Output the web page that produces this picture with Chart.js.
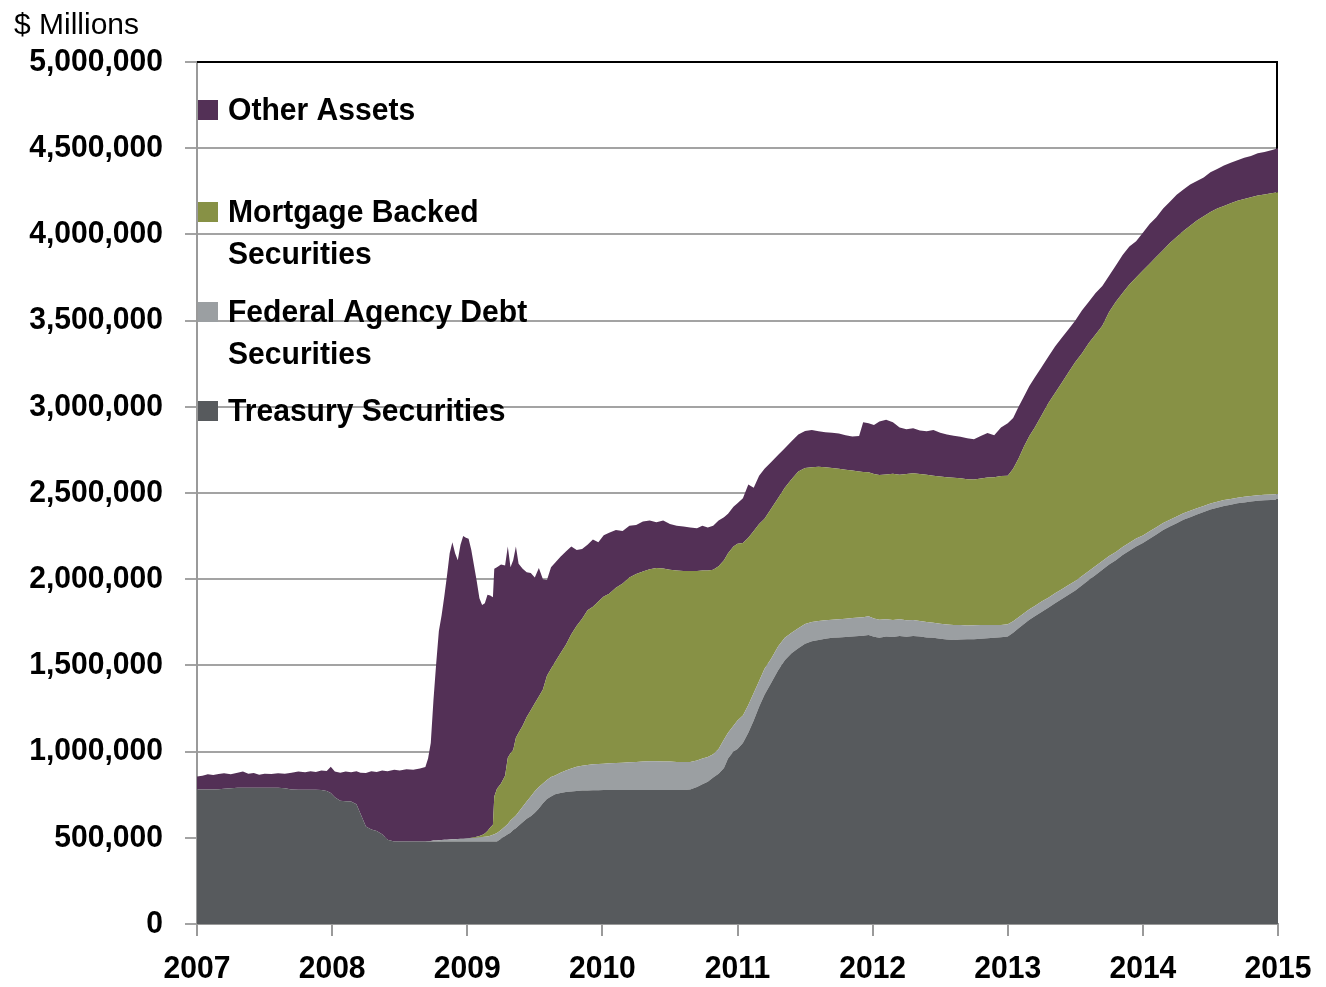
<!DOCTYPE html>
<html>
<head>
<meta charset="utf-8">
<script src="https://cdn.jsdelivr.net/npm/chart.js@4.4.1/dist/chart.umd.min.js"></script>
<style>
  html, body { margin: 0; padding: 0; background: #ffffff; }
  canvas { display: block; }
</style>
</head>
<body>
<canvas id="chart" width="1326" height="987"></canvas>
<script>
// Federal Reserve balance sheet assets, weekly-ish readings in $ billions.
const dates = [
  2007.00, 2007.04, 2007.08, 2007.12, 2007.16, 2007.20, 2007.25, 2007.30, 2007.34, 2007.38, 2007.42, 2007.46,
  2007.50, 2007.55, 2007.60, 2007.65, 2007.70, 2007.75, 2007.80, 2007.84, 2007.88, 2007.92, 2007.96, 2007.99,
  2008.02, 2008.06, 2008.10, 2008.14, 2008.18, 2008.21, 2008.25, 2008.29, 2008.33, 2008.37, 2008.41, 2008.46,
  2008.50, 2008.55, 2008.60, 2008.65, 2008.69, 2008.71, 2008.73, 2008.75, 2008.77, 2008.79, 2008.81, 2008.83,
  2008.85, 2008.87, 2008.89, 2008.91, 2008.93, 2008.95, 2008.97, 2008.99,
  2009.01, 2009.03, 2009.05, 2009.07, 2009.09, 2009.11, 2009.13, 2009.15, 2009.17, 2009.19, 2009.20, 2009.22,
  2009.25, 2009.28, 2009.30, 2009.32, 2009.34, 2009.36, 2009.38, 2009.41, 2009.44, 2009.47, 2009.50, 2009.53,
  2009.56, 2009.59, 2009.62, 2009.65, 2009.69, 2009.73, 2009.77, 2009.81, 2009.85, 2009.89, 2009.93, 2009.97,
  2010.01, 2010.05, 2010.10, 2010.15, 2010.20, 2010.25, 2010.30, 2010.35, 2010.40, 2010.45, 2010.50, 2010.55,
  2010.60, 2010.65, 2010.70, 2010.74, 2010.78, 2010.82, 2010.86, 2010.90, 2010.93, 2010.97,
  2011.00, 2011.04, 2011.08, 2011.12, 2011.16, 2011.20, 2011.25, 2011.30, 2011.35, 2011.40, 2011.45, 2011.50,
  2011.55, 2011.60, 2011.65, 2011.70, 2011.75, 2011.80, 2011.85, 2011.90, 2011.93, 2011.97,
  2012.01, 2012.05, 2012.10, 2012.15, 2012.20, 2012.25, 2012.30, 2012.35, 2012.40, 2012.45, 2012.50, 2012.55,
  2012.60, 2012.65, 2012.70, 2012.75, 2012.80, 2012.85, 2012.90, 2012.95,
  2013.00, 2013.04, 2013.08, 2013.12, 2013.16, 2013.20, 2013.25, 2013.30, 2013.35, 2013.40, 2013.45, 2013.50,
  2013.55, 2013.60, 2013.65, 2013.70, 2013.75, 2013.80, 2013.85, 2013.90, 2013.95,
  2014.00, 2014.05, 2014.10, 2014.15, 2014.20, 2014.25, 2014.30, 2014.35, 2014.40, 2014.45, 2014.50, 2014.55,
  2014.60, 2014.65, 2014.70, 2014.75, 2014.80, 2014.85, 2014.90, 2014.95, 2015.00
];

const treasury = [
  780, 780, 780, 780, 781, 784, 788, 790, 790, 790, 790, 790,
  790, 790, 790, 788, 780, 778, 778, 778, 778, 777, 772, 760,
  735, 715, 712, 710, 695, 640, 565, 548, 540, 520, 488, 478,
  478, 478, 478, 478, 478, 478, 478, 478, 478, 478, 478, 478,
  478, 478, 478, 478, 478, 478, 478, 478,
  478, 478, 478, 478, 478, 478, 478, 478, 478, 478, 478, 478,
  495, 510, 520, 530, 545, 555, 570, 590, 610, 625, 645, 670,
  700, 725, 740, 752, 760, 765, 769, 772, 774, 775, 776, 776,
  777, 777, 777, 777, 777, 777, 777, 777, 777, 777, 777, 777,
  777, 780, 795, 810, 825, 850, 872, 905, 960, 1000,
  1015, 1050, 1110, 1180, 1260, 1330, 1400, 1470, 1530, 1570, 1600, 1625,
  1640, 1648, 1655, 1660, 1662, 1665, 1668, 1670, 1672, 1676,
  1666, 1660, 1668, 1665, 1670, 1666, 1670, 1668, 1662, 1660, 1655, 1650,
  1648, 1650, 1652, 1652, 1655, 1658, 1660, 1663,
  1668, 1690, 1715, 1740, 1765, 1785, 1810, 1835, 1860, 1885, 1910, 1935,
  1965, 1995, 2025, 2055, 2085, 2110, 2140, 2165, 2190,
  2210, 2235, 2260, 2285, 2305, 2325, 2345, 2360, 2375, 2390, 2405, 2415,
  2425, 2432, 2440, 2445, 2450, 2455, 2458, 2460, 2462
];

const agencyDebt = [
  0, 0, 0, 0, 0, 0, 0, 0, 0, 0, 0, 0,
  0, 0, 0, 0, 0, 0, 0, 0, 0, 0, 0, 0,
  0, 0, 0, 0, 0, 0, 0, 0, 0, 0, 0, 0,
  0, 0, 0, 0, 0, 2, 4, 6, 7, 8, 9, 10,
  11, 12, 13, 14, 15, 16, 17, 18,
  19, 20, 21, 22, 24, 26, 28, 30, 34, 40, 42, 50,
  50, 55, 60, 70, 70, 75, 80, 90, 100, 115, 125, 125,
  115, 110, 112, 110, 118, 125, 133, 140, 144, 147, 150, 152,
  153, 155, 157, 159, 161, 163, 165, 167, 167, 166, 165, 163,
  162, 160, 153, 150, 143, 135, 143, 165, 150, 150,
  165, 160, 160, 160, 150, 150, 140, 140, 130, 120, 115, 115,
  112, 110, 107, 105, 106, 105, 107, 108, 108, 109,
  106, 105, 100, 99, 98, 96, 94, 90, 90, 88, 87, 87,
  87, 84, 80, 81, 79, 76, 74, 72,
  70, 66, 65, 62, 61, 60, 60, 58, 58, 57, 56, 55,
  53, 52, 51, 50, 49, 48, 47, 46, 46,
  44, 43, 42, 41, 40, 39, 38, 37, 36, 35, 34, 34,
  34, 33, 33, 33, 32, 32, 32, 32, 32
];

const mortgageBacked = [
  0, 0, 0, 0, 0, 0, 0, 0, 0, 0, 0, 0,
  0, 0, 0, 0, 0, 0, 0, 0, 0, 0, 0, 0,
  0, 0, 0, 0, 0, 0, 0, 0, 0, 0, 0, 0,
  0, 0, 0, 0, 0, 0, 0, 0, 0, 0, 0, 0,
  0, 0, 0, 0, 0, 0, 0, 0,
  1, 2, 4, 6, 8, 12, 19, 32, 48, 57, 220, 257,
  270, 295, 385, 390, 395, 450, 460, 470, 490, 500, 510, 525,
  545, 605, 628, 658, 692, 730, 778, 818, 852, 898, 914, 942,
  970, 983, 1016, 1039, 1072, 1090, 1103, 1114, 1121, 1119, 1113, 1110,
  1109, 1108, 1100, 1090, 1082, 1070, 1060, 1040, 1040, 1040,
  1025, 1000, 970, 940, 910, 870, 870, 860, 870, 890, 910, 905,
  898, 894, 888, 880, 872, 865, 855, 847, 842, 835,
  838, 840, 840, 848, 838, 848, 851, 852, 854, 852, 854, 855,
  853, 851, 848, 845, 850, 856, 858, 863,
  862, 884, 920, 968, 1004, 1035, 1080, 1127, 1162, 1198, 1234, 1270,
  1292, 1323, 1344, 1365, 1416, 1452, 1473, 1499, 1514,
  1536, 1552, 1568, 1584, 1605, 1621, 1637, 1653, 1669, 1680, 1691, 1701,
  1706, 1715, 1722, 1727, 1733, 1738, 1742, 1746, 1751
];

const otherAssets = [
  75, 80, 88, 84, 89, 90, 80, 88, 94, 82, 86, 76,
  82, 80, 84, 84, 98, 106, 102, 108, 104, 113, 116, 152,
  149, 163, 172, 170, 191, 238, 311, 338, 342, 370, 398, 416,
  412, 420, 416, 424, 432, 480, 568, 816, 1025, 1214, 1303, 1412,
  1531, 1660, 1724, 1658, 1617, 1706, 1755, 1744,
  1737, 1670, 1577, 1484, 1380, 1334, 1335, 1370, 1345, 1320, 1320, 1285,
  1270, 1220, 1225, 1080, 1100, 1110, 980, 910, 840, 796, 730, 745,
  640, 555, 590, 575, 560, 540, 510, 440, 405, 380, 390, 345,
  355, 355, 335, 305, 300, 285, 290, 282, 265, 278, 265, 260,
  257, 252, 247, 260, 250, 255, 265, 250, 230, 230,
  235, 260, 310, 250, 280, 290, 270, 250, 230, 220, 215, 215,
  215, 206, 202, 205, 205, 200, 198, 205, 288, 285,
  285, 310, 317, 298, 274, 260, 260, 252, 252, 266, 254, 248,
  244, 241, 238, 234, 246, 258, 243, 282,
  305, 295, 300, 290, 290, 290, 280, 270, 270, 260, 250, 240,
  250, 240, 240, 230, 210, 210, 220, 220, 210,
  220, 230, 230, 240, 240, 245, 240, 240, 230, 225, 230, 230,
  235, 235, 235, 240, 240, 245, 246, 250, 255
];

const MILLIONS_PER_BILLION = 1000;
const seriesLabels = ['Treasury Securities', 'Federal Agency Debt Securities', 'Mortgage Backed Securities', 'Other Assets'];
const seriesColors = ['#575a5d', '#9b9fa2', '#879145', '#533056'];
const seriesValues = [treasury, agencyDebt, mortgageBacked, otherAssets];
// Legend entries, top to bottom, with their wrapped text
const legendEntries = [
  { series: 3, lines: ['Other Assets'] },
  { series: 2, lines: ['Mortgage Backed', 'Securities'] },
  { series: 1, lines: ['Federal Agency Debt', 'Securities'] },
  { series: 0, lines: ['Treasury Securities'] }
];
const unitTitle = '$ Millions';

const BOLD_FAMILY = '"Liberation Sans", Arial, sans-serif';
const REGULAR_FAMILY = '"Liberation Sans", Arial, sans-serif';
const CONDENSE = 0.94; // horizontal squeeze applied to the bold label text

const datasets = seriesValues.map((vals, s) => ({
  label: seriesLabels[s],
  data: dates.map((d, i) => ({ x: d, y: vals[i] * MILLIONS_PER_BILLION })),
  backgroundColor: seriesColors[s],
  borderColor: seriesColors[s],
  borderWidth: 0,
  pointRadius: 0,
  tension: 0,
  fill: s === 0 ? 'origin' : '-1'
}));

// Bold text is drawn slightly condensed, scaled about its anchor point;
// measurements are squeezed the same way so the layout stays consistent.
const condensePlugin = {
  id: 'condense',
  beforeInit(chart) {
    const ctx = chart.ctx;
    const isBold = () => /bold|700/.test(ctx.font);
    const nativeFillText = ctx.fillText.bind(ctx);
    const nativeMeasure = ctx.measureText.bind(ctx);
    ctx.fillText = function (text, x, y, maxWidth) {
      if (isBold()) {
        ctx.save();
        ctx.translate(x, y);
        ctx.scale(CONDENSE, 1);
        nativeFillText(text, 0, 0);
        ctx.restore();
      } else if (maxWidth !== undefined) {
        nativeFillText(text, x, y, maxWidth);
      } else {
        nativeFillText(text, x, y);
      }
    };
    ctx.measureText = function (text) {
      const m = nativeMeasure(text);
      if (!isBold()) return m;
      return {
        width: m.width * CONDENSE,
        actualBoundingBoxLeft: m.actualBoundingBoxLeft * CONDENSE,
        actualBoundingBoxRight: m.actualBoundingBoxRight * CONDENSE,
        actualBoundingBoxAscent: m.actualBoundingBoxAscent,
        actualBoundingBoxDescent: m.actualBoundingBoxDescent
      };
    };
  }
};

// Black frame along the top and right edges of the plot, under the areas
const framePlugin = {
  id: 'frame',
  beforeDatasetsDraw(chart) {
    const { ctx, chartArea: a } = chart;
    ctx.save();
    ctx.strokeStyle = '#000';
    ctx.lineWidth = 2;
    ctx.beginPath();
    ctx.moveTo(a.left, a.top);
    ctx.lineTo(a.right - 1, a.top);
    ctx.lineTo(a.right - 1, a.bottom);
    ctx.stroke();
    ctx.restore();
  }
};

// Unit title and the in-plot legend
const annotatePlugin = {
  id: 'annotate',
  afterDraw(chart) {
    const { ctx, chartArea: a } = chart;
    ctx.save();
    ctx.fillStyle = '#000';
    ctx.font = '30px ' + REGULAR_FAMILY;
    ctx.textBaseline = 'alphabetic';
    ctx.textAlign = 'left';
    ctx.fillText(unitTitle, 14, 34);

    const firstLineY = [110, 212, 312, 411];
    const lineGap = 42;
    ctx.font = 'bold 32px ' + BOLD_FAMILY;
    ctx.textBaseline = 'middle';
    legendEntries.forEach((entry, k) => {
      const ds = chart.data.datasets[entry.series];
      const y0 = firstLineY[k];
      ctx.fillStyle = ds.backgroundColor;
      ctx.fillRect(a.left + 1, y0 - 10, 20, 20);
      ctx.fillStyle = '#000';
      entry.lines.forEach((line, j) => ctx.fillText(line, a.left + 31, y0 + j * lineGap + 1));
    });
    ctx.restore();
  }
};

new Chart(document.getElementById('chart'), {
  type: 'line',
  data: { datasets },
  options: {
    responsive: false,
    animation: false,
    layout: { padding: { top: 62, right: 48, bottom: 0, left: 0 } },
    plugins: { legend: { display: false }, tooltip: { enabled: false }, title: { display: false } },
    scales: {
      x: {
        type: 'linear',
        min: 2007,
        max: 2015,
        afterFit(scale) { scale.height = 63; },
        ticks: {
          stepSize: 1,
          autoSkip: false,
          maxRotation: 0,
          padding: 14,
          color: '#000',
          font: { family: BOLD_FAMILY, size: 32, weight: 'bold' },
          callback: (v) => String(v)
        },
        grid: { drawOnChartArea: false, drawTicks: true, tickLength: 12, color: '#9a9a9a', lineWidth: 2 },
        border: { display: true, color: '#9a9a9a', width: 2 }
      },
      y: {
        stacked: true,
        min: 0,
        max: 5000000,
        afterFit(scale) { scale.width = 197; },
        ticks: {
          stepSize: 500000,
          padding: 22,
          color: '#000',
          font: { family: BOLD_FAMILY, size: 32, weight: 'bold' },
          callback: (v) => v.toLocaleString('en-US')
        },
        grid: { color: '#a3a3a3', lineWidth: 2, tickLength: 12 },
        border: { display: true, color: '#9a9a9a', width: 2 }
      }
    }
  },
  plugins: [condensePlugin, framePlugin, annotatePlugin]
});
</script>
</body>
</html>
